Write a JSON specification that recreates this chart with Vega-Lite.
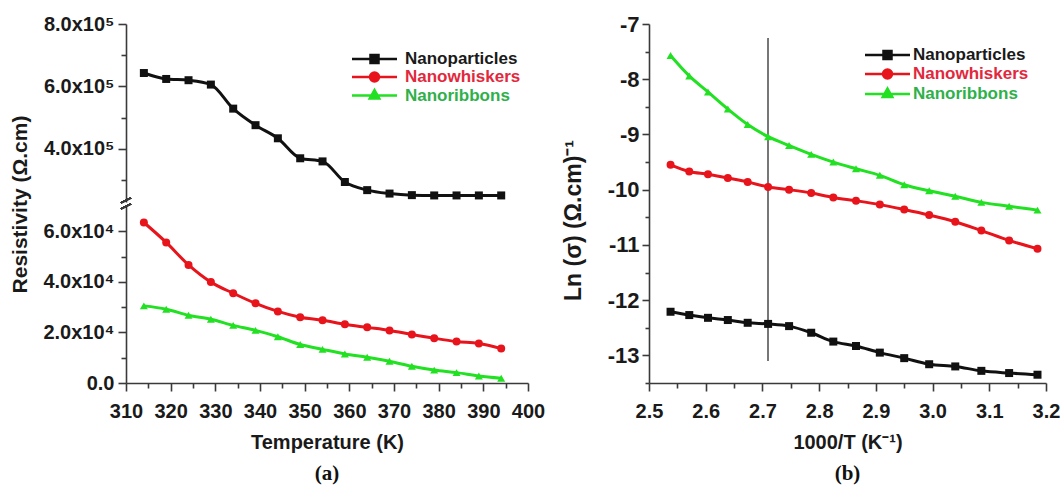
{
  "$schema": "https://vega.github.io/schema/vega-lite/v6.json",
  "autosize": "none",
  "padding": {"left": 126, "top": 24, "right": 936, "bottom": 465},
  "background": "white",
  "config": {
    "view": {"stroke": null},
    "axis": {
      "grid": false,
      "domainColor": "#3a3a3a",
      "domainWidth": 1.6,
      "tickColor": "#3a3a3a",
      "tickWidth": 1.6,
      "labelColor": "#1a1a1a",
      "titleColor": "#1a1a1a",
      "labelFont": "Liberation Sans",
      "labelFontWeight": "bold",
      "labelFontSize": 20,
      "titleFont": "Liberation Sans",
      "titleFontWeight": "bold",
      "titleFontSize": 20
    },
    "legend": {
      "orient": "none",
      "title": null,
      "padding": 0,
      "symbolSize": 100,
      "symbolStrokeWidth": 2.5,
      "labelFont": "Liberation Sans",
      "labelFontWeight": "bold",
      "labelFontSize": 17
    },
    "title": {"font": "Liberation Serif", "fontWeight": "bold", "fontSize": 21, "color": "#111", "anchor": "middle", "frame": "group"}
  },
  "datasets": {
    "resistivity": [
      {"series": "Nanoparticles", "temperature": 314, "resistivity": 643000},
      {"series": "Nanoparticles", "temperature": 319, "resistivity": 624000},
      {"series": "Nanoparticles", "temperature": 324, "resistivity": 620000},
      {"series": "Nanoparticles", "temperature": 329, "resistivity": 606000},
      {"series": "Nanoparticles", "temperature": 334, "resistivity": 529000},
      {"series": "Nanoparticles", "temperature": 339, "resistivity": 476000},
      {"series": "Nanoparticles", "temperature": 344, "resistivity": 434000},
      {"series": "Nanoparticles", "temperature": 349, "resistivity": 370000},
      {"series": "Nanoparticles", "temperature": 354, "resistivity": 360000},
      {"series": "Nanoparticles", "temperature": 359, "resistivity": 294000},
      {"series": "Nanoparticles", "temperature": 364, "resistivity": 268000},
      {"series": "Nanoparticles", "temperature": 369, "resistivity": 257000},
      {"series": "Nanoparticles", "temperature": 374, "resistivity": 252000},
      {"series": "Nanoparticles", "temperature": 379, "resistivity": 251000},
      {"series": "Nanoparticles", "temperature": 384, "resistivity": 251000},
      {"series": "Nanoparticles", "temperature": 389, "resistivity": 251000},
      {"series": "Nanoparticles", "temperature": 394, "resistivity": 251000},
      {"series": "Nanowhiskers", "temperature": 314, "resistivity": 63500},
      {"series": "Nanowhiskers", "temperature": 319, "resistivity": 55600},
      {"series": "Nanowhiskers", "temperature": 324, "resistivity": 46700},
      {"series": "Nanowhiskers", "temperature": 329, "resistivity": 39900},
      {"series": "Nanowhiskers", "temperature": 334, "resistivity": 35500},
      {"series": "Nanowhiskers", "temperature": 339, "resistivity": 31500},
      {"series": "Nanowhiskers", "temperature": 344, "resistivity": 28300},
      {"series": "Nanowhiskers", "temperature": 349, "resistivity": 26000},
      {"series": "Nanowhiskers", "temperature": 354, "resistivity": 24800},
      {"series": "Nanowhiskers", "temperature": 359, "resistivity": 23200},
      {"series": "Nanowhiskers", "temperature": 364, "resistivity": 22000},
      {"series": "Nanowhiskers", "temperature": 369, "resistivity": 20800},
      {"series": "Nanowhiskers", "temperature": 374, "resistivity": 19200},
      {"series": "Nanowhiskers", "temperature": 379, "resistivity": 17700},
      {"series": "Nanowhiskers", "temperature": 384, "resistivity": 16400},
      {"series": "Nanowhiskers", "temperature": 389, "resistivity": 15600},
      {"series": "Nanowhiskers", "temperature": 394, "resistivity": 13600},
      {"series": "Nanoribbons", "temperature": 314, "resistivity": 30500},
      {"series": "Nanoribbons", "temperature": 319, "resistivity": 29200},
      {"series": "Nanoribbons", "temperature": 324, "resistivity": 26800},
      {"series": "Nanoribbons", "temperature": 329, "resistivity": 25200},
      {"series": "Nanoribbons", "temperature": 334, "resistivity": 22800},
      {"series": "Nanoribbons", "temperature": 339, "resistivity": 20800},
      {"series": "Nanoribbons", "temperature": 344, "resistivity": 18300},
      {"series": "Nanoribbons", "temperature": 349, "resistivity": 15200},
      {"series": "Nanoribbons", "temperature": 354, "resistivity": 13300},
      {"series": "Nanoribbons", "temperature": 359, "resistivity": 11500},
      {"series": "Nanoribbons", "temperature": 364, "resistivity": 10200},
      {"series": "Nanoribbons", "temperature": 369, "resistivity": 8600},
      {"series": "Nanoribbons", "temperature": 374, "resistivity": 6600},
      {"series": "Nanoribbons", "temperature": 379, "resistivity": 5100},
      {"series": "Nanoribbons", "temperature": 384, "resistivity": 4100},
      {"series": "Nanoribbons", "temperature": 389, "resistivity": 2800},
      {"series": "Nanoribbons", "temperature": 394, "resistivity": 1900}
    ],
    "conductivity": [
      {"series": "Nanoparticles", "inverseT": 2.538, "lnSigma": -12.21},
      {"series": "Nanoparticles", "inverseT": 2.571, "lnSigma": -12.27},
      {"series": "Nanoparticles", "inverseT": 2.604, "lnSigma": -12.32},
      {"series": "Nanoparticles", "inverseT": 2.639, "lnSigma": -12.36},
      {"series": "Nanoparticles", "inverseT": 2.674, "lnSigma": -12.41},
      {"series": "Nanoparticles", "inverseT": 2.710, "lnSigma": -12.43},
      {"series": "Nanoparticles", "inverseT": 2.747, "lnSigma": -12.47},
      {"series": "Nanoparticles", "inverseT": 2.786, "lnSigma": -12.59},
      {"series": "Nanoparticles", "inverseT": 2.825, "lnSigma": -12.75},
      {"series": "Nanoparticles", "inverseT": 2.865, "lnSigma": -12.83},
      {"series": "Nanoparticles", "inverseT": 2.907, "lnSigma": -12.95},
      {"series": "Nanoparticles", "inverseT": 2.950, "lnSigma": -13.05},
      {"series": "Nanoparticles", "inverseT": 2.994, "lnSigma": -13.16},
      {"series": "Nanoparticles", "inverseT": 3.040, "lnSigma": -13.20},
      {"series": "Nanoparticles", "inverseT": 3.086, "lnSigma": -13.28},
      {"series": "Nanoparticles", "inverseT": 3.135, "lnSigma": -13.32},
      {"series": "Nanoparticles", "inverseT": 3.185, "lnSigma": -13.35},
      {"series": "Nanowhiskers", "inverseT": 2.538, "lnSigma": -9.55},
      {"series": "Nanowhiskers", "inverseT": 2.571, "lnSigma": -9.67},
      {"series": "Nanowhiskers", "inverseT": 2.604, "lnSigma": -9.72},
      {"series": "Nanowhiskers", "inverseT": 2.639, "lnSigma": -9.79},
      {"series": "Nanowhiskers", "inverseT": 2.674, "lnSigma": -9.86},
      {"series": "Nanowhiskers", "inverseT": 2.710, "lnSigma": -9.95},
      {"series": "Nanowhiskers", "inverseT": 2.747, "lnSigma": -10.00},
      {"series": "Nanowhiskers", "inverseT": 2.786, "lnSigma": -10.06},
      {"series": "Nanowhiskers", "inverseT": 2.825, "lnSigma": -10.14},
      {"series": "Nanowhiskers", "inverseT": 2.865, "lnSigma": -10.20},
      {"series": "Nanowhiskers", "inverseT": 2.907, "lnSigma": -10.27},
      {"series": "Nanowhiskers", "inverseT": 2.950, "lnSigma": -10.36},
      {"series": "Nanowhiskers", "inverseT": 2.994, "lnSigma": -10.46},
      {"series": "Nanowhiskers", "inverseT": 3.040, "lnSigma": -10.58},
      {"series": "Nanowhiskers", "inverseT": 3.086, "lnSigma": -10.74},
      {"series": "Nanowhiskers", "inverseT": 3.135, "lnSigma": -10.92},
      {"series": "Nanowhiskers", "inverseT": 3.185, "lnSigma": -11.07},
      {"series": "Nanoribbons", "inverseT": 2.538, "lnSigma": -7.57},
      {"series": "Nanoribbons", "inverseT": 2.571, "lnSigma": -7.94},
      {"series": "Nanoribbons", "inverseT": 2.604, "lnSigma": -8.23},
      {"series": "Nanoribbons", "inverseT": 2.639, "lnSigma": -8.54},
      {"series": "Nanoribbons", "inverseT": 2.674, "lnSigma": -8.82},
      {"series": "Nanoribbons", "inverseT": 2.710, "lnSigma": -9.04},
      {"series": "Nanoribbons", "inverseT": 2.747, "lnSigma": -9.20},
      {"series": "Nanoribbons", "inverseT": 2.786, "lnSigma": -9.36},
      {"series": "Nanoribbons", "inverseT": 2.825, "lnSigma": -9.50},
      {"series": "Nanoribbons", "inverseT": 2.865, "lnSigma": -9.62},
      {"series": "Nanoribbons", "inverseT": 2.907, "lnSigma": -9.74},
      {"series": "Nanoribbons", "inverseT": 2.950, "lnSigma": -9.91},
      {"series": "Nanoribbons", "inverseT": 2.994, "lnSigma": -10.02},
      {"series": "Nanoribbons", "inverseT": 3.040, "lnSigma": -10.12},
      {"series": "Nanoribbons", "inverseT": 3.086, "lnSigma": -10.23},
      {"series": "Nanoribbons", "inverseT": 3.135, "lnSigma": -10.30},
      {"series": "Nanoribbons", "inverseT": 3.185, "lnSigma": -10.37}
    ]
  },
  "spacing": 121,
  "bounds": "flush",
  "resolve": {"scale": {"color": "independent"}, "legend": {"color": "independent"}},
  "hconcat": [
    {
      "title": {"text": "(a)", "orient": "bottom", "offset": 11},
      "width": 402,
      "height": 359,
      "data": {"name": "resistivity"},
      "resolve": {"scale": {"y": "independent"}, "axis": {"y": "independent"}},
      "layer": [
        {
          "transform": [{"filter": "datum.series === 'Nanoparticles'"}],
          "encoding": {
            "x": {
              "field": "temperature", "type": "quantitative",
              "scale": {"domain": [310, 400], "nice": false, "zero": false},
              "axis": {
                "title": "Temperature (K)",
                "values": [310, 315, 320, 325, 330, 335, 340, 345, 350, 355, 360, 365, 370, 375, 380, 385, 390, 395, 400],
                "labelExpr": "datum.value % 10 === 0 ? datum.label : ''",
                "tickSize": {"condition": {"test": "datum.value % 10 === 0", "value": 8}, "value": 5},
                "labelPadding": 10, "titlePadding": 11, "labelFlush": false
              }
            },
            "y": {
              "field": "resistivity", "type": "quantitative",
              "scale": {"domain": [230000, 800000], "nice": false, "zero": false, "range": [178, 0]},
              "axis": {
                "orient": "left",
                "title": "Resistivity (Ω.cm)",
                "titleFontSize": 21,
                "titleAngle": -90, "titleX": -106, "titleY": 180,
                "titleAlign": "center", "titleBaseline": "middle",
                "values": [300000, 400000, 500000, 600000, 700000, 800000],
                "labelExpr": "datum.value % 200000 === 0 ? format(datum.value / 100000, '.1f') + 'x10⁵' : ''",
                "tickSize": {"condition": {"test": "datum.value % 200000 === 0", "value": 8}, "value": 5},
                "labelPadding": 4
              }
            },
            "color": {
              "field": "series", "type": "nominal",
              "scale": {"domain": ["Nanoparticles", "Nanowhiskers", "Nanoribbons"], "range": ["#111111", "#e8141c", "#22e022"]},
              "legend": {
                "legendX": 240, "legendY": 26.5, "labelOffset": 22, "rowPadding": -1.5,
                "symbolType": {"expr": "datum.value === 'Nanoparticles' ? 'M-4.5,0H4.5M-0.8,-0.8H0.8V0.8H-0.8Z' : datum.value === 'Nanowhiskers' ? 'M-4.5,0H4.5M0.9,0A0.9,0.9,0,1,1,-0.9,0A0.9,0.9,0,1,1,0.9,0Z' : 'M-4.5,0H4.5M0,-1.1L0.95,0.6H-0.95Z'"},
                "labelColor": {"expr": "datum.value === 'Nanoparticles' ? '#1a1a1a' : datum.value === 'Nanowhiskers' ? '#e2283c' : '#2fb04a'"}
              }
            }
          },
          "layer": [
            {"mark": {"type": "line", "strokeWidth": 3, "interpolate": "monotone"}},
            {
              "mark": {"type": "point", "filled": true, "size": 64, "opacity": 1, "shape": "square"}
            },
            {
              "mark": {"type": "point", "shape": "M-0.5,-0.1L0.5,-0.6M-0.5,0.5L0.5,0", "size": 400, "stroke": "#3a3a3a", "strokeWidth": 1.6, "filled": false, "opacity": 1, "clip": false},
              "encoding": {"x": {"datum": 310}, "y": {"datum": 224000}, "color": {"value": "#3a3a3a"}}
            }
          ]
        },
        {
          "transform": [{"filter": "datum.series !== 'Nanoparticles'"}],
          "encoding": {
            "x": {
              "field": "temperature", "type": "quantitative",
              "scale": {"domain": [310, 400], "nice": false, "zero": false},
              "axis": {
                "title": "Temperature (K)",
                "values": [310, 315, 320, 325, 330, 335, 340, 345, 350, 355, 360, 365, 370, 375, 380, 385, 390, 395, 400],
                "labelExpr": "datum.value % 10 === 0 ? datum.label : ''",
                "tickSize": {"condition": {"test": "datum.value % 10 === 0", "value": 8}, "value": 5},
                "labelPadding": 10, "titlePadding": 11, "labelFlush": false
              }
            },
            "y": {
              "field": "resistivity", "type": "quantitative",
              "scale": {"domain": [0, 70000], "nice": false, "zero": true, "range": [359, 182]},
              "axis": {
                "orient": "left",
                "title": null,
                "values": [0, 10000, 20000, 30000, 40000, 50000, 60000],
                "labelExpr": "datum.value === 0 ? '0.0' : datum.value % 20000 === 0 ? format(datum.value / 10000, '.1f') + 'x10⁴' : ''",
                "tickSize": {"condition": {"test": "datum.value % 20000 === 0", "value": 8}, "value": 5},
                "labelPadding": 4
              }
            },
            "color": {
              "field": "series", "type": "nominal",
              "scale": {"domain": ["Nanoparticles", "Nanowhiskers", "Nanoribbons"], "range": ["#111111", "#e8141c", "#22e022"]}
            }
          },
          "layer": [
            {"mark": {"type": "line", "strokeWidth": 3, "interpolate": "monotone"}},
            {
              "mark": {"type": "point", "filled": true, "size": 64, "opacity": 1},
              "encoding": {
                "shape": {"condition": {"test": "datum.series === 'Nanowhiskers'", "value": "circle"}, "value": "triangle-up"}
              }
            }
          ]
        }
      ]
    },
    {
      "title": {"text": "(b)", "orient": "bottom", "offset": 11},
      "width": 397,
      "height": 359,
      "data": {"name": "conductivity"},
      "encoding": {
        "x": {
          "field": "inverseT", "type": "quantitative",
          "scale": {"domain": [2.5, 3.2], "nice": false, "zero": false},
          "axis": {
            "title": "1000/T (K⁻¹)",
            "values": [2.5, 2.55, 2.6, 2.65, 2.7, 2.75, 2.8, 2.85, 2.9, 2.95, 3.0, 3.05, 3.1, 3.15, 3.2],
            "labelExpr": "abs(datum.value * 10 - round(datum.value * 10)) < 0.001 ? format(datum.value, '.1f') : ''",
            "tickSize": {"condition": {"test": "abs(datum.value * 10 - round(datum.value * 10)) < 0.001", "value": 8}, "value": 5},
            "labelPadding": 10, "titlePadding": 11, "labelFlush": false
          }
        },
        "y": {
          "field": "lnSigma", "type": "quantitative",
          "scale": {"domain": [-13.5, -7], "nice": false, "zero": false},
          "axis": {
            "title": "Ln (σ) (Ω.cm)⁻¹",
            "titleFontSize": 23,
            "titleAngle": -90, "titleX": -76, "titleY": 196,
            "titleAlign": "center", "titleBaseline": "middle",
            "labelFontSize": 22,
            "values": [-13.5, -13, -12.5, -12, -11.5, -11, -10.5, -10, -9.5, -9, -8.5, -8, -7.5, -7],
            "labelExpr": "datum.value % 1 === 0 ? '-' + abs(datum.value) : ''",
            "tickSize": {"condition": {"test": "datum.value % 1 === 0", "value": 7}, "value": 4},
            "labelPadding": 3
          }
        },
        "color": {
          "field": "series", "type": "nominal",
          "scale": {"domain": ["Nanoparticles", "Nanowhiskers", "Nanoribbons"], "range": ["#111111", "#e8141c", "#22e022"]},
          "legend": {
            "legendX": 230, "legendY": 22.5, "labelOffset": 17, "rowPadding": 0,
            "symbolType": {"expr": "datum.value === 'Nanoparticles' ? 'M-4.5,0H4.5M-0.8,-0.8H0.8V0.8H-0.8Z' : datum.value === 'Nanowhiskers' ? 'M-4.5,0H4.5M0.9,0A0.9,0.9,0,1,1,-0.9,0A0.9,0.9,0,1,1,0.9,0Z' : 'M-4.5,0H4.5M0,-1.1L0.95,0.6H-0.95Z'"},
            "labelColor": {"expr": "datum.value === 'Nanoparticles' ? '#1a1a1a' : datum.value === 'Nanowhiskers' ? '#e2283c' : '#2fb04a'"}
          }
        }
      },
      "layer": [
        {
          "mark": {"type": "rule", "strokeWidth": 1},
          "encoding": {"x": {"datum": 2.71}, "y": {"datum": -7.27}, "y2": {"datum": -13.1}, "color": {"value": "#777777"}}
        },
        {"mark": {"type": "line", "strokeWidth": 3, "interpolate": "monotone"}},
        {
          "mark": {"type": "point", "filled": true, "size": 64, "opacity": 1},
          "encoding": {
            "shape": {"condition": [{"test": "datum.series === 'Nanoparticles'", "value": "square"}, {"test": "datum.series === 'Nanowhiskers'", "value": "circle"}], "value": "triangle-up"}
          }
        }
      ]
    }
  ]
}
